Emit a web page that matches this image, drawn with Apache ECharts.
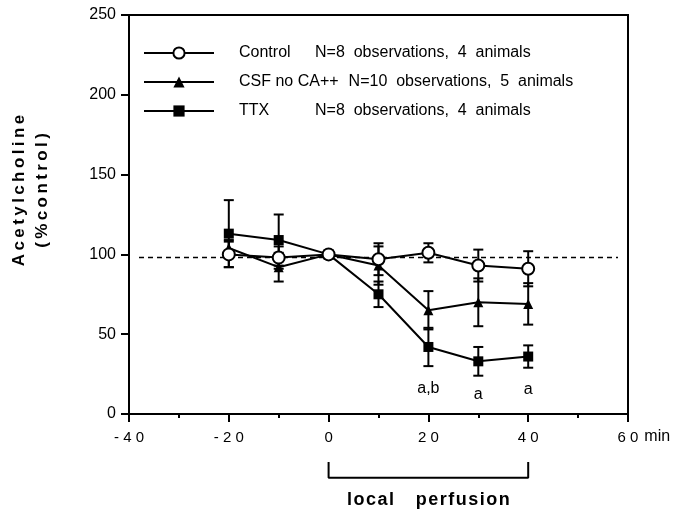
<!DOCTYPE html>
<html>
<head>
<meta charset="utf-8">
<script src="https://cdn.jsdelivr.net/npm/echarts@6/dist/echarts.min.js"></script>
<style>
  html, body { margin: 0; padding: 0; background: #fff; }
  #chart { width: 681px; height: 510px; }
</style>
</head>
<body>
<div id="chart"></div>
<script>
// ---- data ----
const times = [-20, -10, 0, 10, 20, 30, 40];
const controlMean = [100, 98, 100, 97, 101, 93, 91];
const controlSem  = [8, 7, 0, 10, 6, 10, 11];
const csfMean = [104, 92, 100, 93, 65, 70, 69];
const csfSem  = [5, 9, 0, 12, 12, 15, 13];
const ttxMean = [113, 109, 100, 75, 42, 33, 36];
const ttxSem  = [21, 16, 0, 8, 12, 9, 7];

const seriesNames = ['Control', 'CSF no CA++', 'TTX'];
const seriesNotes = ['N=8  observations,  4  animals', 'N=10  observations,  5  animals', 'N=8  observations,  4  animals'];

const baselineX = [-38, 58];
const baselineY = 98;

const annotX = [20, 30, 40];
const annotY = [16, 12, 15];
const annotText = ['a,b', 'a', 'a'];

const perfusionStart = 0;
const perfusionEnd = 40;
const bracketTop = -30;
const bracketBottom = -40;
const perfusionLabelY = -54;
const perfusionWords = ['local', 'perfusion'];

const xTicks = { min: -40, max: 60, interval: 20 };
const yTicks = { min: 0, max: 250, interval: 50 };

const FONT = '"Liberation Sans", Arial, Helvetica, sans-serif';
const spaced = (s, sep) => s.split('').join(sep);

function pairs(xs, ys) { return xs.map((x, i) => [x, ys[i]]); }
function triples(xs, ys, es) { return xs.map((x, i) => [x, ys[i], es[i]]); }

function errorBarSeries(name, xs, ys, es) {
  return {
    type: 'custom',
    name: name + ' SEM',
    z: 1,
    silent: true,
    renderItem: function (params, api) {
      const x = api.value(0), y = api.value(1), e = api.value(2);
      if (!e) return null;
      const top = api.coord([x, y + e]);
      const bot = api.coord([x, y - e]);
      const hw = 5;
      const st = { stroke: '#000', lineWidth: 2 };
      return {
        type: 'group',
        children: [
          { type: 'line', shape: { x1: top[0], y1: top[1], x2: bot[0], y2: bot[1] }, style: st },
          { type: 'line', shape: { x1: top[0] - hw, y1: top[1], x2: top[0] + hw, y2: top[1] }, style: st },
          { type: 'line', shape: { x1: bot[0] - hw, y1: bot[1], x2: bot[0] + hw, y2: bot[1] }, style: st }
        ]
      };
    },
    data: triples(xs, ys, es)
  };
}

const chart = echarts.init(document.getElementById('chart'), null, { renderer: 'canvas' });

const option = {
  backgroundColor: '#fff',
  animation: false,
  textStyle: { fontFamily: FONT, color: '#000' },
  grid: {
    left: 125, right: 53, top: 15, bottom: 96,
    show: true, borderColor: '#000', borderWidth: 2, backgroundColor: 'transparent'
  },
  legend: {
    orient: 'vertical',
    left: 138, top: 40,
    itemWidth: 70, itemHeight: 14, itemGap: 13,
    data: seriesNames,
    formatter: function (name) {
      const i = seriesNames.indexOf(name);
      const key = i === 1 ? 'n2' : 'n1';
      return '{' + key + '|' + name + '}{d|' + seriesNotes[i] + '}';
    },
    textStyle: {
      fontFamily: FONT, fontSize: 16, color: '#000', lineHeight: 14,
      rich: {
        n1: { fontFamily: FONT, fontSize: 16, width: 76, padding: [0, 0, 0, 20], lineHeight: 14 },
        n2: { fontFamily: FONT, fontSize: 16, padding: [0, 10, 0, 20], lineHeight: 14 },
        d: { fontFamily: FONT, fontSize: 16, lineHeight: 14 }
      }
    }
  },
  xAxis: {
    type: 'value',
    min: xTicks.min, max: xTicks.max, interval: xTicks.interval,
    name: 'min',
    nameLocation: 'end',
    nameGap: 13,
    nameTextStyle: { fontFamily: FONT, fontSize: 16, color: '#000', verticalAlign: 'top', lineHeight: 46 },
    axisLine: { show: true, onZero: false, lineStyle: { color: '#000', width: 2 } },
    axisTick: { show: true, inside: false, length: 8, lineStyle: { color: '#000', width: 2 } },
    minorTick: { show: true, splitNumber: 2, length: 4, lineStyle: { color: '#000', width: 2 } },
    splitLine: { show: false },
    axisLabel: {
      fontFamily: FONT, fontSize: 15, color: '#000', margin: 16,
      formatter: function (v) { return spaced(String(v), ' '); }
    }
  },
  yAxis: {
    type: 'value',
    min: yTicks.min, max: yTicks.max, interval: yTicks.interval,
    name: spaced('Acetylcholine', '\u2009') + '\n' + spaced('(%control)', '\u2009'),
    nameLocation: 'middle',
    nameGap: 75,
    nameRotate: 90,
    nameTextStyle: { fontFamily: FONT, fontSize: 17, fontWeight: 'bold', color: '#000', lineHeight: 23, padding: [0, 0, 0, 48] },
    axisLine: { show: true, onZero: false, lineStyle: { color: '#000', width: 2 } },
    axisTick: { show: true, inside: false, length: 8, lineStyle: { color: '#000', width: 2 } },
    splitLine: { show: false },
    axisLabel: { fontFamily: FONT, fontSize: 16, color: '#000', margin: 13 }
  },
  series: [
    {
      type: 'line', name: 'baseline', silent: true, z: 0,
      symbol: 'none',
      lineStyle: { color: '#000', width: 1.5, type: [5, 4] },
      data: [[baselineX[0], baselineY], [baselineX[1], baselineY]]
    },
    errorBarSeries('TTX', times, ttxMean, ttxSem),
    errorBarSeries('CSF no CA++', times, csfMean, csfSem),
    errorBarSeries('Control', times, controlMean, controlSem),
    {
      type: 'line', name: 'TTX', z: 3,
      symbol: 'rect', symbolSize: 10,
      itemStyle: { color: '#000' },
      lineStyle: { color: '#000', width: 2 },
      data: pairs(times, ttxMean)
    },
    {
      type: 'line', name: 'CSF no CA++', z: 4,
      symbol: 'triangle', symbolSize: 10,
      itemStyle: { color: '#000' },
      lineStyle: { color: '#000', width: 2 },
      data: pairs(times, csfMean)
    },
    {
      type: 'line', name: 'Control', z: 5,
      symbol: 'circle', symbolSize: 12,
      itemStyle: { color: '#fff', borderColor: '#000', borderWidth: 2 },
      lineStyle: { color: '#000', width: 2 },
      data: pairs(times, controlMean)
    },
    {
      type: 'scatter', name: 'significance', silent: true,
      symbolSize: 0,
      itemStyle: { color: '#000', opacity: 1 },
      label: {
        show: true, position: 'inside', fontFamily: FONT, fontSize: 16, color: '#000',
        textBorderWidth: 0, opacity: 1,
        formatter: function (p) { return annotText[p.dataIndex]; }
      },
      data: pairs(annotX, annotY)
    },
    {
      type: 'line', name: 'perfusion bracket', silent: true, clip: false,
      symbol: 'none',
      lineStyle: { color: '#000', width: 2 },
      data: [[perfusionStart, bracketTop], [perfusionStart, bracketBottom], [perfusionEnd, bracketBottom], [perfusionEnd, bracketTop]]
    },
    {
      type: 'scatter', name: 'perfusion label', silent: true, clip: false,
      symbolSize: 0,
      itemStyle: { color: '#000', opacity: 1 },
      label: {
        show: true, position: 'inside', fontFamily: FONT, fontSize: 18, fontWeight: 'bold', color: '#000',
        textBorderWidth: 0, opacity: 1,
        formatter: function () { return perfusionWords.map(w => spaced(w, '\u200A')).join('\u2003\u2009'); }
      },
      data: [[(perfusionStart + perfusionEnd) / 2, perfusionLabelY]]
    }
  ]
};

chart.setOption(option);
</script>
</body>
</html>
